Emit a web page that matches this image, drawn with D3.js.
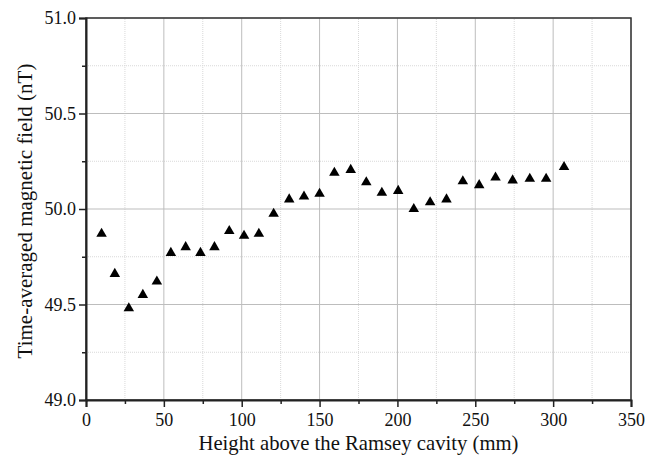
<!DOCTYPE html>
<html>
<head>
<meta charset="utf-8">
<script src="https://cdn.jsdelivr.net/npm/d3@7"></script>
<style>
  body { margin: 0; background: #fff; }
</style>
</head>
<body>
<div id="chart"></div>
<script>
var width = 666;
var height = 459;
var serif = "'Liberation Serif', 'Times New Roman', serif";

// heights (mm) and field (nT)
var heights = [10, 18.5, 27.5, 36.5, 45.5, 54.5, 64, 73.5, 82.5, 92, 101.5, 111,
               120.5, 130.5, 140, 150, 159.5, 170, 180, 190, 200.5, 210.5, 221,
               231.5, 242, 252.5, 263, 274, 285, 295.5, 307];
var fields = [49.87, 49.66, 49.48, 49.55, 49.62, 49.77, 49.80, 49.77, 49.80, 49.885, 49.86, 49.87,
              49.975, 50.05, 50.065, 50.08, 50.19, 50.205, 50.14, 50.085, 50.095, 50.0, 50.035,
              50.05, 50.145, 50.125, 50.165, 50.15, 50.158, 50.158, 50.22];

var xTicks = [0, 50, 100, 150, 200, 250, 300, 350];
var xMinor = [25, 75, 125, 175, 225, 275, 325];
var yTicks = [49.0, 49.5, 50.0, 50.5, 51.0];
var yMinor = [49.25, 49.75, 50.25, 50.75];

var margin = {top: 18, right: 35, bottom: 59, left: 86};

var svg = d3.select("#chart")
            .append("svg")
            .attr("width", width)
            .attr("height", height);

var x = d3.scaleLinear().domain([0, 350]).range([margin.left, width - margin.right]);
var y = d3.scaleLinear().domain([49, 51]).range([height - margin.bottom, margin.top]);

var grid = svg.append("g");

// minor grid, dotted
grid.selectAll(".vmin").data(xMinor).enter().append("line")
    .attr("x1", d => x(d)).attr("x2", d => x(d))
    .attr("y1", y(49)).attr("y2", y(51))
    .attr("stroke", "#d9d9d9").attr("stroke-dasharray", "1,1");
grid.selectAll(".hmin").data(yMinor).enter().append("line")
    .attr("y1", d => y(d)).attr("y2", d => y(d))
    .attr("x1", x(0)).attr("x2", x(350))
    .attr("stroke", "#d9d9d9").attr("stroke-dasharray", "1,1");

// major grid
grid.selectAll(".vmaj").data(xTicks).enter().append("line")
    .attr("x1", d => x(d)).attr("x2", d => x(d))
    .attr("y1", y(49)).attr("y2", y(51))
    .attr("stroke", "#bdbdbd");
grid.selectAll(".hmaj").data(yTicks).enter().append("line")
    .attr("y1", d => y(d)).attr("y2", d => y(d))
    .attr("x1", x(0)).attr("x2", x(350))
    .attr("stroke", "#bdbdbd");

// frame
svg.append("rect")
    .attr("x", x(0)).attr("y", y(51))
    .attr("width", x(350) - x(0)).attr("height", y(49) - y(51))
    .attr("fill", "none").attr("stroke", "#333").attr("stroke-width", 1.5);

// axes
svg.append("g")
    .attr("transform", "translate(0," + y(49) + ")")
    .call(d3.axisBottom(x).tickValues(xTicks).tickFormat(d3.format("d")).tickSize(7).tickPadding(6))
    .attr("font-family", serif).attr("font-size", 18);
svg.append("g")
    .attr("transform", "translate(0," + y(49) + ")")
    .call(d3.axisBottom(x).tickValues(xMinor).tickFormat("").tickSize(4))
    .select(".domain").remove();

svg.append("g")
    .attr("transform", "translate(" + x(0) + ",0)")
    .call(d3.axisLeft(y).tickValues(yTicks).tickFormat(d3.format(".1f")).tickSize(7).tickPadding(3))
    .attr("font-family", serif).attr("font-size", 18);
svg.append("g")
    .attr("transform", "translate(" + x(0) + ",0)")
    .call(d3.axisLeft(y).tickValues(yMinor).tickFormat("").tickSize(4))
    .select(".domain").remove();

svg.selectAll(".domain").attr("stroke", "#222").attr("stroke-width", 2);
svg.selectAll(".tick line").attr("stroke", "#222").attr("stroke-width", 1.5);
svg.selectAll(".tick text").attr("fill", "#111");

// points
svg.append("g").selectAll("path")
    .data(heights)
    .enter()
    .append("path")
    .attr("d", d3.symbol().type(d3.symbolTriangle).size(48))
    .attr("transform", (d, i) => "translate(" + x(d) + "," + y(fields[i]) + ")")
    .attr("fill", "#000");

// titles
svg.append("text")
    .attr("x", (x(0) + x(350)) / 2)
    .attr("y", 450)
    .attr("text-anchor", "middle")
    .attr("font-family", serif)
    .attr("font-size", 20.7)
    .attr("fill", "#111")
    .text("Height above the Ramsey cavity (mm)");

svg.append("text")
    .attr("transform", "translate(32,211) rotate(-90)")
    .attr("text-anchor", "middle")
    .attr("font-family", serif)
    .attr("font-size", 21)
    .attr("fill", "#111")
    .text("Time-averaged magnetic field (nT)");
</script>
</body>
</html>
